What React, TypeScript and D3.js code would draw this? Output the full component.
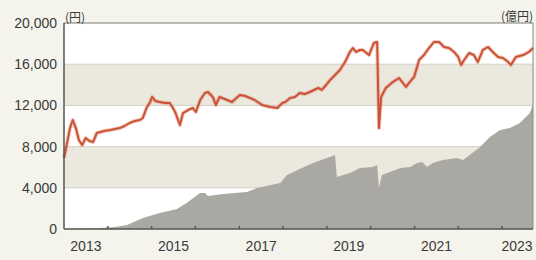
import React, { useEffect } from "react";
import * as d3 from "d3";

// 基準価額 (円)
const navDates = [
  "2013-01-01", "2013-01-15", "2013-02-20", "2013-03-15", "2013-04-10", "2013-05-05", "2013-06-01",
  "2013-07-01", "2013-08-01", "2013-09-01", "2013-10-01", "2013-11-01", "2013-12-01", "2014-01-20",
  "2014-03-01", "2014-04-10", "2014-05-20", "2014-07-01", "2014-08-15", "2014-09-25", "2014-10-20",
  "2014-11-20", "2014-12-20", "2015-01-05", "2015-02-01", "2015-03-10", "2015-04-20", "2015-06-01",
  "2015-06-28", "2015-07-20", "2015-08-25", "2015-09-20", "2015-11-01", "2015-12-10", "2016-01-05",
  "2016-02-10", "2016-03-20", "2016-04-15", "2016-05-25", "2016-06-20", "2016-07-20", "2016-09-01",
  "2016-11-01", "2017-01-05", "2017-02-20", "2017-04-01", "2017-05-10", "2017-07-10", "2017-09-15",
  "2017-11-15", "2017-12-25", "2018-01-20", "2018-03-01", "2018-04-10", "2018-05-20", "2018-07-01",
  "2018-08-12", "2018-10-20", "2018-11-20", "2018-12-25", "2019-01-28", "2019-03-10", "2019-04-20",
  "2019-06-01", "2019-07-12", "2019-08-06", "2019-09-01", "2019-10-03", "2019-10-28", "2019-12-18",
  "2020-01-28", "2020-02-24", "2020-03-10", "2020-03-28", "2020-05-06", "2020-07-04", "2020-08-24",
  "2020-10-22", "2020-11-16", "2020-12-28", "2021-02-08", "2021-03-20", "2021-05-01", "2021-06-12",
  "2021-07-24", "2021-09-04", "2021-10-15", "2021-11-26", "2021-12-31", "2022-01-24", "2022-02-18",
  "2022-04-01", "2022-05-10", "2022-06-12", "2022-07-24", "2022-09-05", "2022-10-15", "2022-11-28",
  "2023-01-08", "2023-02-20", "2023-03-15", "2023-04-25", "2023-06-25", "2023-08-12", "2023-09-15",
];
const navValues = [
  6900, 7670, 9800, 10580, 9800, 8640, 8150,
  8830, 8540, 8450, 9320, 9420, 9510, 9610,
  9710, 9800, 10000, 10290, 10490, 10580, 10780,
  11750, 12330, 12820, 12430, 12330, 12230, 12230,
  11750, 11260, 10100, 11260, 11550, 11750, 11360,
  12520, 13200, 13300, 12820, 12040, 12820, 12620,
  12330, 13010, 12910, 12720, 12520, 12040, 11840,
  11750, 12230, 12330, 12720, 12820, 13200, 13110,
  13300, 13690, 13500, 13980, 14470, 14950, 15440,
  16210, 17190, 17570, 17190, 17380, 17380, 16890,
  18060, 18160, 9800, 12820, 13690, 14270, 14660,
  13790, 14180, 14760, 16410, 16890, 17570, 18160,
  18160, 17670, 17570, 17190, 16700, 15920, 16410,
  17090, 16890, 16210, 17380, 17670, 17190, 16700,
  16600, 16210, 15920, 16700, 16890, 17190, 17570,
];

// 純資産総額 (億円)
const assetDates = [
  "2013-01-01", "2013-11-01", "2014-03-01", "2014-06-10", "2014-10-20", "2015-03-10", "2015-08-01",
  "2015-10-20", "2016-02-10", "2016-03-20", "2016-04-15", "2016-08-20", "2017-03-05", "2017-05-28",
  "2017-12-08", "2018-02-03", "2018-05-20", "2018-09-06", "2019-01-03", "2019-03-10", "2019-03-25",
  "2019-07-12", "2019-10-03", "2020-01-20", "2020-02-24", "2020-03-10", "2020-04-03", "2020-06-10",
  "2020-09-03", "2020-11-25", "2021-01-22", "2021-03-04", "2021-04-15", "2021-06-03", "2021-08-25",
  "2021-12-21", "2022-02-10", "2022-04-06", "2022-07-01", "2022-09-21", "2022-12-15", "2023-03-06",
  "2023-05-28", "2023-08-20", "2023-09-15",
];
const assetValues = [
  0, 100, 190, 390, 1070, 1550, 1940,
  2520, 3500, 3500, 3200, 3400, 3590, 3980,
  4470, 5240, 5830, 6410, 6890, 7180, 5050,
  5440, 5920, 6020, 6210, 3980, 5240, 5530,
  5920, 6020, 6410, 6500, 6020, 6410, 6700,
  6890, 6700, 7180, 7960, 8930, 9610, 9800,
  10290, 11260, 12140,
];

const yTicks = [0, 4000, 8000, 12000, 16000, 20000];
const yearTicks = ["2014", "2015", "2016", "2017", "2018", "2019", "2020", "2021", "2022", "2023"];
const yearLabels = ["2013", "2015", "2017", "2019", "2021", "2023"];

const W = 536;
const H = 260;
const margin = { top: 23, right: 3, bottom: 31, left: 64 };

export default function App() {
  useEffect(() => {
    document.body.style.margin = "0";
  }, []);

  const parse = d3.timeParse("%Y-%m-%d");
  const x = d3
    .scaleTime()
    .domain([parse("2013-01-01")!, parse("2023-09-15")!])
    .range([margin.left, W - margin.right]);
  const y = d3.scaleLinear().domain([0, 20000]).range([H - margin.bottom, margin.top]);
  // right axis (億円) shares the pixel range
  const y2 = d3.scaleLinear().domain([0, 20000]).range([H - margin.bottom, margin.top]);

  const nav = navDates.map((d, i) => ({ date: parse(d)!, v: navValues[i] }));
  const assets = assetDates.map((d, i) => ({ date: parse(d)!, v: assetValues[i] }));

  const line = d3
    .line<{ date: Date; v: number }>()
    .x((d) => x(d.date))
    .y((d) => y(d.v));
  const area = d3
    .area<{ date: Date; v: number }>()
    .x((d) => x(d.date))
    .y0(y2(0))
    .y1((d) => y2(d.v));

  const x0 = x.range()[0];
  const x1 = x.range()[1];
  const font = "'Liberation Sans', Arial, sans-serif";

  return (
    <svg width={W} height={H} style={{ display: "block" }}>
      <rect x={0} y={0} width={W} height={H} fill="#f5f4ec" />
      {/* bands */}
      {yTicks.slice(0, -1).map((t, i) => (
        <rect
          key={t}
          x={x0}
          y={y(yTicks[i + 1])}
          width={x1 - x0}
          height={y(t) - y(yTicks[i + 1])}
          fill={i % 2 === 1 ? "#ebe9de" : "#ffffff"}
        />
      ))}
      {yTicks.slice(1, -1).map((t) => (
        <line key={t} x1={x0} x2={x1} y1={y(t)} y2={y(t)} stroke="#d2d0c8" strokeWidth={1} />
      ))}
      <path d={area(assets) || ""} fill="#aaa8a2" />
      <path d={line(nav) || ""} fill="none" stroke="#e08a74" strokeOpacity={0.45} strokeWidth={4} strokeLinejoin="round" />
      <path d={line(nav) || ""} fill="none" stroke="#cb5234" strokeWidth={2} strokeLinejoin="round" />
      {/* frame */}
      <line x1={x0} x2={x1} y1={y(20000)} y2={y(20000)} stroke="#7a7a76" strokeWidth={1.2} />
      <line x1={x1} x2={x1} y1={y(20000)} y2={y(0)} stroke="#8a8a86" strokeWidth={1} />
      <line x1={x0} x2={x0} y1={y(20000)} y2={y(0)} stroke="#555" strokeWidth={1.5} />
      <line x1={x0} x2={x1} y1={y(0)} y2={y(0)} stroke="#555" strokeWidth={1.5} />
      {yearTicks.map((yr) => {
        const px = x(parse(yr + "-01-01")!);
        return <line key={yr} x1={px} x2={px} y1={y(0)} y2={y(0) - 3} stroke="#555" strokeWidth={1.5} />;
      })}
      {yTicks.map((t) => (
        <text
          key={t}
          x={57}
          y={y(t)}
          dy="0.35em"
          textAnchor="end"
          fontFamily={font}
          fontSize={14}
          fill="#3a3a3a"
        >
          {d3.format(",")(t)}
        </text>
      ))}
      {yearLabels.map((yr) => {
        const a = x(parse(yr + "-01-01")!);
        const b = x(parse(String(+yr + 1) + "-01-01")!);
        const cx = Math.min((a + b) / 2, 517);
        return (
          <text key={yr} x={cx} y={251} textAnchor="middle" fontFamily={font} fontSize={14} fill="#3a3a3a">
            {yr}
          </text>
        );
      })}
      <text x={65} y={22} fontFamily="'Noto Sans CJK JP', sans-serif" fontSize={12} fill="#3a3a3a">
        (円)
      </text>
      <text x={533} y={21} textAnchor="end" fontFamily="'Noto Sans CJK JP', sans-serif" fontSize={12} fill="#3a3a3a">
        (億円)
      </text>
    </svg>
  );
}
